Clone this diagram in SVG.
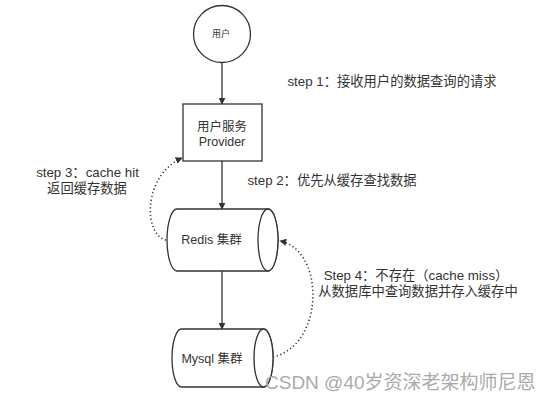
<svg xmlns="http://www.w3.org/2000/svg" width="554" height="403" viewBox="0 0 554 403">
<style>
.shape{fill:#fff;stroke:#333;stroke-width:1.3}
.edge{fill:none;stroke:#333;stroke-width:1.3}
.dot{fill:none;stroke:#333;stroke-width:1.6;stroke-dasharray:1.2 2.6}
.t{font-family:"Liberation Sans","Noto Sans CJK SC",sans-serif;fill:#333;text-anchor:middle;dominant-baseline:central}
.lbl{font-size:13.3px}
.nd{font-size:12.5px}
.wm{font-family:"Liberation Sans","Noto Sans CJK SC",sans-serif;font-size:19px;fill:#aaa;text-anchor:start;dominant-baseline:central}
</style>
<defs>
<marker id="arr" viewBox="0 0 10 10" refX="9" refY="5" markerWidth="7" markerHeight="7" markerUnits="userSpaceOnUse" orient="auto">
<path d="M0,0 L10,5 L0,10 Z" fill="#333"/>
</marker>
</defs>
<rect width="554" height="403" fill="#fff"/>
<g id="connectors">
<line class="edge" x1="222" y1="63" x2="222" y2="104" marker-end="url(#arr)"/>
<line class="edge" x1="222" y1="161" x2="222" y2="209" marker-end="url(#arr)"/>
<line class="edge" x1="222" y1="271" x2="222" y2="329" marker-end="url(#arr)"/>
<path class="dot" d="M166,240 C143,235 143,175 182,158" marker-end="url(#arr)"/>
<path class="dot" d="M273,357 C325,345 325,250 280,241" marker-end="url(#arr)"/>
</g>
<g id="user">
<circle class="shape" cx="222" cy="34" r="28.5"/>
<text class="t" x="221" y="34" font-size="9">用户</text>
</g>
<g id="provider">
<rect class="shape" x="183" y="104" width="79" height="57"/>
<text class="t nd" x="222" y="127">用户服务</text>
<text class="t nd" x="222" y="141.5">Provider</text>
</g>
<g id="redis">
<path class="shape" d="M177,209 L268,209 A10 31 0 0 1 268,271 L177,271 A10 31 0 0 1 177,209 Z"/>
<ellipse class="shape" cx="268" cy="240" rx="10" ry="31"/>
<text class="t nd" x="211.5" y="240">Redis 集群</text>
</g>
<g id="mysql">
<path class="shape" d="M181.5,329 L263.5,329 A9.5 29 0 0 1 263.5,387 L181.5,387 A9.5 29 0 0 1 181.5,329 Z"/>
<ellipse class="shape" cx="263.5" cy="358" rx="9.5" ry="29"/>
<text class="t nd" x="212" y="359">Mysql 集群</text>
</g>
<g id="labels">
<text class="t lbl" x="392" y="81.5">step 1：接收用户的数据查询的请求</text>
<text class="t lbl" x="332" y="180.5">step 2：优先从缓存查找数据</text>
<text class="t lbl" x="87.5" y="172.5">step 3：cache hit</text>
<text class="t lbl" x="87" y="188.5">返回缓存数据</text>
<text class="t lbl" x="416" y="275">Step 4：不存在（cache miss）</text>
<text class="t lbl" x="418" y="291.5">从数据库中查询数据并存入缓存中</text>
</g>
<text class="wm" x="265" y="382">CSDN @40岁资深老架构师尼恩</text>
</svg>
